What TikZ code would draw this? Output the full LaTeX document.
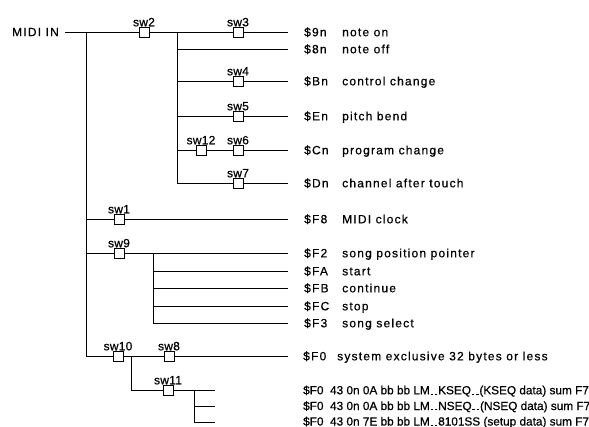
\documentclass[tikz,border=0pt]{standalone}
\usepackage{fontspec}
\setmainfont{Liberation Sans}[LetterSpace=10, FakeBold=0.6]
\usetikzlibrary{positioning}
\newcommand\lmgap{\kern0.8pt\rule{2.6pt}{0.6pt}\kern0.8pt}

\begin{document}
\begin{tikzpicture}[
  x=1pt, y=-1pt,
  font=\fontsize{12}{14}\selectfont,
  wire/.style={line width=0.8pt},
  swbox/.style={draw, line width=0.8pt, fill=white, minimum size=10pt, inner sep=0pt,
    label distance=6pt,
    label={[inner sep=0pt, font=\fontsize{12}{14}\selectfont\addfontfeature{LetterSpace=2}]above:#1}},
  txt/.style={anchor=base west, inner sep=0pt},
  longtxt/.style={txt, font=\fontsize{11.8}{13}\selectfont\addfontfeature{LetterSpace=0}}
]
\useasboundingbox (0,0) rectangle (589,427);

% input and trunk
\node[anchor=east, inner sep=6pt] (in) at (65,32) {MIDI IN};
\coordinate (t0) at (86,32);
\coordinate (t1) at (86,356);

% channel messages
\node[swbox=sw2] (sw2) at (144,32) {};
\coordinate (b0) at (177,32);
\coordinate (b1) at (177,183);
\node[swbox=sw3] (sw3) at (238,32) {};
\node[swbox=sw4] (sw4) at (238,81) {};
\node[swbox=sw5] (sw5) at (238,116) {};
\node[swbox=sw12] (sw12) at (201,150) {};
\node[swbox=sw6] (sw6) at (238,150) {};
\node[swbox=sw7] (sw7) at (238,183) {};

% system messages
\node[swbox=sw1] (sw1) at (119,219) {};
\node[swbox=sw9] (sw9) at (119,253) {};
\coordinate (c0) at (153,253);
\coordinate (c1) at (153,323);
\node[swbox=sw10] (sw10) at (118,356) {};
\node[swbox=sw8] (sw8) at (169,356) {};
\coordinate (d0) at (131,356);
\coordinate (d1) at (131,390);
\node[swbox=sw11] (sw11) at (168,390) {};
\coordinate (g0) at (194,390);
\coordinate (g1) at (194,422);

% message texts
\foreach \n/\y/\c/\d in {1/32/\$9n/note on, 2/49/\$8n/note off,
    3/81/\$Bn/control change, 4/116/\$En/pitch bend,
    5/150/\$Cn/program change, 6/183/\$Dn/channel after touch,
    7/219/\$F8/MIDI clock, 8/253/\$F2/song position pointer,
    9/271/\$FA/start, 10/288/\$FB/continue, 11/306/\$FC/stop,
    12/323/\$F3/song select} {
  \node[txt] (code\n) at (304,\y+4.3) {\c};
  \node[txt] (msg\n) at (342,\y+4.3) {\d};
  \coordinate (e\n) at (288,\y);
}
\node[txt] (code13) at (303,360.3) {\$F0};
\node[txt] (msg13) at (337,360.3) {system exclusive 32 bytes or less};
\coordinate (e13) at (288,356);
\node[longtxt] (sx1) at (303,394.3) {\$F0\ \ 43 0n 0A bb bb LM\lmgap\lmgap KSEQ\lmgap\lmgap(KSEQ data) sum F7};
\node[longtxt] (sx2) at (303,410) {\$F0\ \ 43 0n 0A bb bb LM\lmgap\lmgap NSEQ\lmgap\lmgap(NSEQ data) sum F7};
\node[longtxt] (sx3) at (303,425.5) {\$F0\ \ 43 0n 7E bb bb LM\lmgap\lmgap 8101SS (setup data) sum F7};
\coordinate (f1) at (215,390);
\coordinate (f2) at (215,406);
\coordinate (f3) at (215,422);

% wires
\draw[wire] (in) -- (sw2) -- (sw3) -- (e1);
\draw[wire] (b0) -- (b1) -- (sw7) -- (e6);
\draw[wire] (b0|-e2) -- (e2);
\draw[wire] (b0|-sw4) -- (sw4) -- (e3);
\draw[wire] (b0|-sw5) -- (sw5) -- (e4);
\draw[wire] (b0|-sw12) -- (sw12) -- (sw6) -- (e5);
\draw[wire] (t0) -- (t1) -- (sw10) -- (sw8) -- (e13);
\draw[wire] (t0|-sw1) -- (sw1) -- (e7);
\draw[wire] (t0|-sw9) -- (sw9) -- (e8);
\draw[wire] (c0) -- (c1) -- (e12);
\draw[wire] (c0|-e9) -- (e9);
\draw[wire] (c0|-e10) -- (e10);
\draw[wire] (c0|-e11) -- (e11);
\draw[wire] (d0) -- (d1) -- (sw11) -- (f1);
\draw[wire] (g0) -- (g1) -- (f3);
\draw[wire] (g0|-f2) -- (f2);
\end{tikzpicture}
\end{document}
